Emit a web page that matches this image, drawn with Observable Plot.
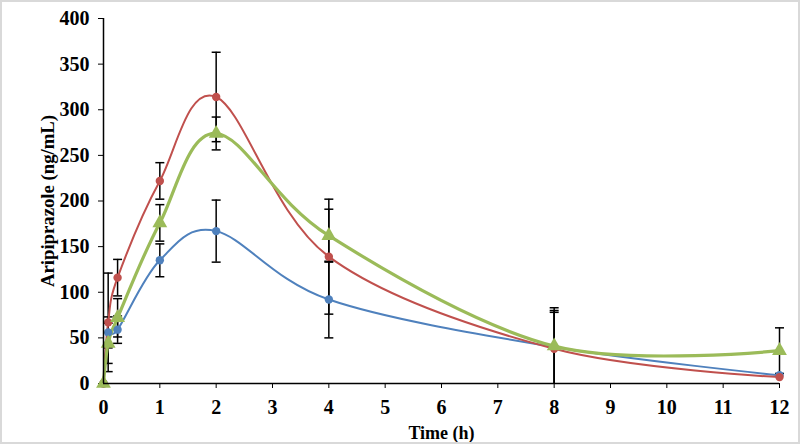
<!DOCTYPE html>
<html>
<head>
<meta charset="utf-8">
<script src="https://cdn.jsdelivr.net/npm/d3@7"></script>
<script src="https://cdn.jsdelivr.net/npm/@observablehq/plot@0.6"></script>
<style>
  html, body { margin: 0; padding: 0; background: #fff; }
  #chart svg { display: block; outline: 2px solid #d9d9d9; outline-offset: -2px; }
  #chart svg g[aria-label="x-axis tick label"], #chart svg g[aria-label="y-axis tick label"] { font-size: 20px; }
  #chart svg g[aria-label="x-axis label"], #chart svg g[aria-label="y-axis label"] { font-size: 18px; }
</style>
</head>
<body>
<div id="chart"></div>
<script>
const times = [0, 0.083, 0.25, 1, 2, 4, 8, 12];
const xTicks = [0, 1, 2, 3, 4, 5, 6, 7, 8, 9, 10, 11, 12];
const yTicks = [0, 50, 100, 150, 200, 250, 300, 350, 400];

const blueValues = [0, 56, 59, 135, 167, 92, 40, 9];
const blueErrors = [0, 17, 15, 18, 34, 42, 40, 0];
const redValues = [0, 67, 116, 222, 314, 139, 38, 7];
const redErrors = [0, 54, 20, 20, 49, 63, 40, 0];
const greenValues = [0, 44, 72, 176, 274, 162, 41, 36];
const greenErrors = [0, 22, 21, 20, 18, 29, 42, 25];

const seriesNames = ["blue", "red", "green"];
const seriesColors = ["#4F81BD", "#C0504D", "#9BBB59"];

function rows(name, vals, errs) {
  return times.map((t, i) => ({
    series: name, t, v: vals[i],
    lo: Math.max(0, vals[i] - errs[i]), hi: vals[i] + errs[i], e: errs[i]
  }));
}
const data = [
  ...rows("blue", blueValues, blueErrors),
  ...rows("red", redValues, redErrors),
  ...rows("green", greenValues, greenErrors)
];
const errData = data.filter(d => d.e > 0);

const capSymbol = {
  draw(context, size) {
    const r = 4.5;
    context.moveTo(-r, 0);
    context.lineTo(r, 0);
  }
};

const font = "'Liberation Serif', 'Times New Roman', serif";

const chart = Plot.plot({
  width: 800,
  height: 444,
  marginLeft: 103,
  marginRight: 21,
  marginTop: 18,
  marginBottom: 61,
  style: { fontFamily: font, fontSize: "18px", fontWeight: "bold", color: "#000", background: "#fff" },
  color: { domain: seriesNames, range: seriesColors },
  x: {
    domain: [0, 12], ticks: xTicks, tickSize: 5, tickPadding: 11,
    label: "Time (h)", labelAnchor: "center", labelArrow: "none", labelOffset: 55
  },
  y: {
    domain: [0, 400], ticks: yTicks, tickSize: 5, tickPadding: 9,
    label: "Aripiprazole (ng/mL)", labelAnchor: "center", labelArrow: "none", labelOffset: 62
  },
  marks: [
    Plot.ruleX(errData, { x: "t", y1: "lo", y2: "hi", stroke: "#000", strokeWidth: 1.5 }),
    Plot.dot(errData, { x: "t", y: "hi", symbol: capSymbol, stroke: "#000", strokeWidth: 1.5, fill: "none", r: 4 }),
    Plot.dot(errData.filter(d => d.v - d.e > 0), { x: "t", y: "lo", symbol: capSymbol, stroke: "#000", strokeWidth: 1.5, fill: "none", r: 4 }),
    Plot.line(data.filter(d => d.series === "blue"), { x: "t", y: "v", stroke: "#4F81BD", strokeWidth: 2, curve: "cardinal", tension: 0 }),
    Plot.line(data.filter(d => d.series === "red"), { x: "t", y: "v", stroke: "#C0504D", strokeWidth: 2, curve: "cardinal", tension: 0 }),
    Plot.line(data.filter(d => d.series === "green"), { x: "t", y: "v", stroke: "#9BBB59", strokeWidth: 3.2, curve: "cardinal", tension: 0 }),
    Plot.dot(data.filter(d => d.series === "blue"), { x: "t", y: "v", fill: "#4F81BD", r: 4.2 }),
    Plot.dot(data.filter(d => d.series === "red"), { x: "t", y: "v", fill: "#C0504D", r: 4.2 }),
    Plot.dot(data.filter(d => d.series === "green"), { x: "t", y: "v", fill: "#9BBB59", symbol: "triangle", r: 5.5 }),
    Plot.ruleY([0], { stroke: "#000", strokeWidth: 1.5 }),
    Plot.ruleX([0], { stroke: "#000", strokeWidth: 1.5 })
  ]
});
document.getElementById("chart").appendChild(chart);
const yLabel = chart.querySelector('g[aria-label="y-axis label"] text');
if (yLabel) {
  yLabel.setAttribute("textLength", "172");
  yLabel.setAttribute("lengthAdjust", "spacingAndGlyphs");
}
</script>
</body>
</html>
